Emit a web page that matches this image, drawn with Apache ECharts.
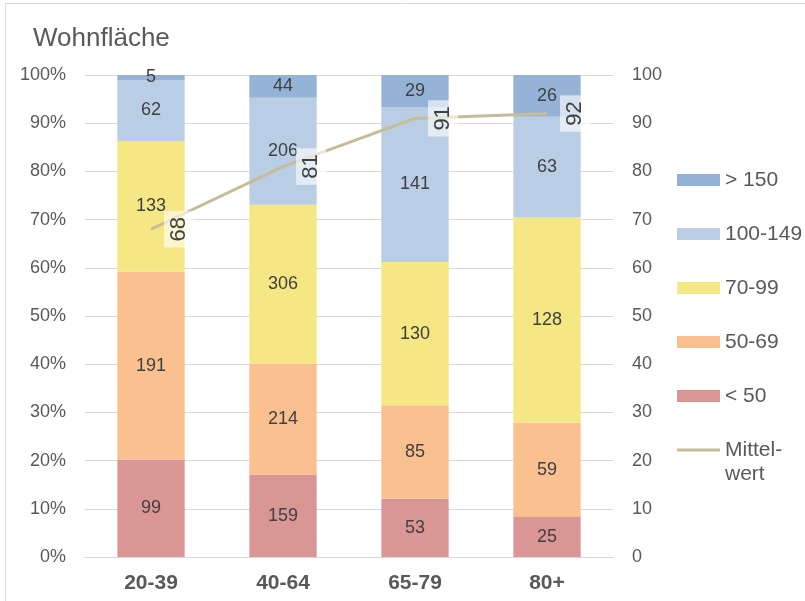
<!DOCTYPE html>
<html>
<head>
<meta charset="utf-8">
<script src="https://cdn.jsdelivr.net/npm/echarts@6/dist/echarts.min.js"></script>
<style>
  html, body { margin: 0; padding: 0; background: #fff; }
  #chart { width: 805px; height: 601px; }
</style>
</head>
<body>
<div id="chart"></div>
<script>
// Altersgruppen und Anzahl Haushalte je Wohnflächenklasse (m²)
const categories = ['20-39', '40-64', '65-79', '80+'];
const under50 = [99, 159, 53, 25];
const from50to69 = [191, 214, 85, 59];
const from70to99 = [133, 306, 130, 128];
const from100to149 = [62, 206, 141, 63];
const over150 = [5, 44, 29, 26];
const mittelwert = [68, 81, 91, 92];
const leftTicks = ['0%', '10%', '20%', '30%', '40%', '50%', '60%', '70%', '80%', '90%', '100%'];

const classes = [
  { name: '< 50', counts: under50, color: '#da9694' },
  { name: '50-69', counts: from50to69, color: '#fac090' },
  { name: '70-99', counts: from70to99, color: '#f5e783' },
  { name: '100-149', counts: from100to149, color: '#b9cde5' },
  { name: '> 150', counts: over150, color: '#95b3d7' }
];

const totals = categories.map((_, i) => classes.reduce((s, c) => s + c.counts[i], 0));

const font = 'Arial, Liberation Sans, sans-serif';

const barSeries = classes.map(c => ({
  name: c.name,
  type: 'bar',
  stack: 'anteil',
  barWidth: '51%',
  yAxisIndex: 0,
  itemStyle: { color: c.color },
  label: {
    show: true,
    position: 'inside',
    color: '#404040',
    fontSize: 18,
    fontFamily: font,
    formatter: p => String(c.counts[p.dataIndex])
  },
  data: c.counts.map((v, i) => v / totals[i] * 100)
}));

const legendText = { color: '#595959', fontSize: 21, fontFamily: font, lineHeight: 24 };

const chart = echarts.init(document.getElementById('chart'), null, { renderer: 'canvas' });

chart.setOption({
  backgroundColor: '#ffffff',
  animation: false,
  title: {
    text: 'Wohnfläche',
    left: 28,
    top: 21,
    textStyle: { color: '#595959', fontSize: 26, fontWeight: 'normal', fontFamily: font }
  },
  graphic: [{
    type: 'rect',
    shape: { x: 5.5, y: 3.5, width: 900, height: 700 },
    style: { fill: 'none', stroke: '#d9d9d9', lineWidth: 1 },
    silent: true
  }, {
    type: 'text',
    left: 725,
    top: 464,
    style: { text: 'wert', fill: '#595959', fontSize: 21, fontFamily: font },
    silent: true
  }],
  grid: { left: 85, right: 192, top: 75, bottom: 44 },
  legend: [{
    orient: 'vertical',
    left: 677,
    top: 168,
    padding: 0,
    itemWidth: 43,
    itemHeight: 12,
    itemGap: 30,
    itemStyle: { borderWidth: 0 },
    textStyle: legendText,
    data: [
      { name: '> 150', icon: 'rect' },
      { name: '100-149', icon: 'rect' },
      { name: '70-99', icon: 'rect' },
      { name: '50-69', icon: 'rect' },
      { name: '< 50', icon: 'rect' }
    ]
  }, {
    orient: 'vertical',
    left: 677,
    top: 438,
    padding: 0,
    itemWidth: 43,
    itemHeight: 4,
    textStyle: legendText,
    formatter: () => 'Mittel-',
    data: [{ name: 'Mittelwert', icon: 'path://M0,0 L40,0 L40,3 L0,3 Z' }]
  }],
  xAxis: {
    type: 'category',
    data: categories,
    axisTick: { show: false },
    axisLine: { lineStyle: { color: '#d9d9d9', width: 1 } },
    axisLabel: { color: '#595959', fontSize: 21, fontWeight: 'bold', fontFamily: font, margin: 16 }
  },
  yAxis: [{
    type: 'value',
    min: 0,
    max: 100,
    interval: 10,
    axisLine: { show: false },
    axisTick: { show: false },
    splitLine: { lineStyle: { color: '#d9d9d9', width: 1 } },
    axisLabel: {
      color: '#595959', fontSize: 18, fontFamily: font, margin: 19,
      formatter: v => leftTicks[Math.round(v / 10)]
    }
  }, {
    type: 'value',
    min: 0,
    max: 100,
    interval: 10,
    position: 'right',
    axisLine: { show: false },
    axisTick: { show: false },
    splitLine: { show: false },
    axisLabel: { color: '#595959', fontSize: 18, fontFamily: font, margin: 19 }
  }],
  series: [...barSeries, {
    name: 'Mittelwert',
    type: 'line',
    yAxisIndex: 1,
    symbol: 'circle',
    symbolSize: 0.1,
    showSymbol: true,
    lineStyle: { color: '#c4bd97', width: 3 },
    itemStyle: { color: '#c4bd97' },
    z: 5,
    label: {
      show: true,
      position: 'right',
      distance: 28,
      align: 'center',
      verticalAlign: 'middle',
      rotate: 90,
      color: '#404040',
      fontSize: 22,
      fontFamily: font,
      backgroundColor: 'rgba(255,255,255,0.62)',
      padding: [4, 6, 4, 6]
    },
    labelLayout: { hideOverlap: false },
    data: mittelwert
  }]
});
</script>
</body>
</html>
